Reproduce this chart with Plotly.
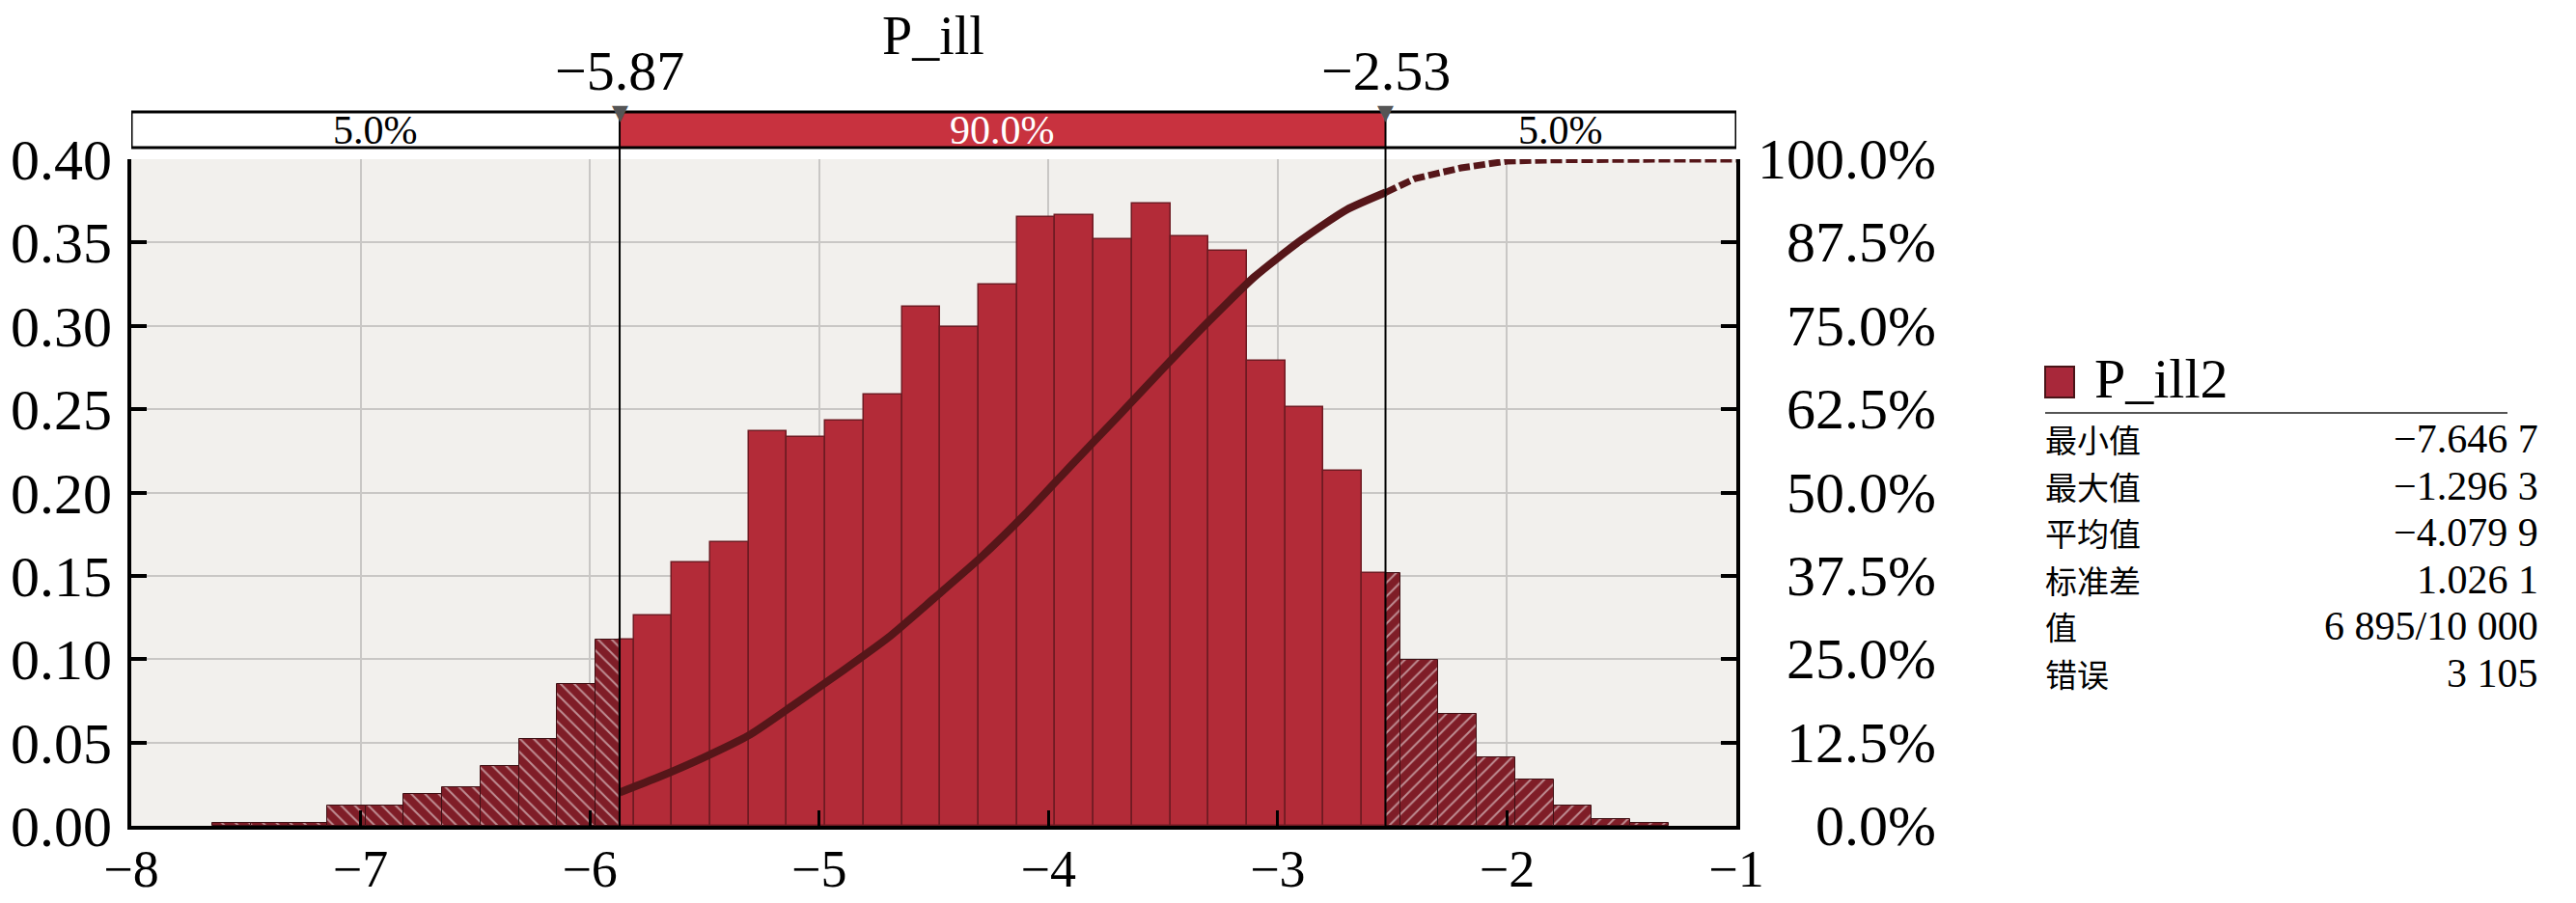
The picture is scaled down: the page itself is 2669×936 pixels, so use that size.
import plotly.graph_objects as go

# ---------------- data ----------------
bin_start = -7.6467          # first bin edge (= minimum)
bin_width = 0.16712          # histogram bin width
density = [0.002, 0.002, 0.002, 0.012, 0.012, 0.019, 0.023, 0.036, 0.052, 0.085,
           0.112, 0.126, 0.158, 0.170, 0.237, 0.233, 0.243, 0.259, 0.3115, 0.299,
           0.3246, 0.365, 0.3663, 0.352, 0.3735, 0.3535, 0.345, 0.279, 0.2515, 0.213,
           0.1516, 0.0996, 0.067, 0.041, 0.028, 0.0123, 0.0039, 0.002]
p_low, p_high = -5.87, -2.53
band_labels = ["5.0%", "90.0%", "5.0%"]

cdf_x = [-5.87, -5.7, -5.5, -5.3, -5.1, -4.9, -4.7, -4.5, -4.3, -4.1, -3.9, -3.7,
         -3.5, -3.3, -3.1, -2.9, -2.7, -2.53]
cdf_y = [0.05, 0.073, 0.103, 0.137, 0.184, 0.232, 0.282, 0.341, 0.401, 0.468, 0.541,
         0.613, 0.686, 0.757, 0.824, 0.878, 0.924, 0.95]
cdf_tail_x = [-2.53, -2.4, -2.2, -2.0, -1.8, -1.6, -1.3, -1.0]
cdf_tail_y = [0.95, 0.971, 0.987, 0.997, 0.999, 1.0, 1.0, 1.0]

x_ticks = [-8, -7, -6, -5, -4, -3, -2, -1]
y_ticks = [0.00, 0.05, 0.10, 0.15, 0.20, 0.25, 0.30, 0.35, 0.40]
y2_ticks = [0.0, 0.125, 0.25, 0.375, 0.5, 0.625, 0.75, 0.875, 1.0]

title_text = "P_ill"
series_name = "P_ill2"
stat_names = ["最小值", "最大值", "平均值", "标准差", "值", "错误"]
stat_values = ["−7.646 7", "−1.296 3", "−4.079 9", "1.026 1", "6 895/10 000", "3 105"]

# ---------------- style ----------------
SERIF = "Liberation Serif, Times New Roman, serif"
CJK = "Noto Sans CJK SC"
RED = "#B32B38"
DARK = "#7F1D27"
CDF_C = "#561619"
BG = "#F2F0ED"
GRID = "#C9C7C5"

W, H = 2669, 936
ML, MR, MT, MB = 136, 870, 116, 80
PW, PH = W - ML - MR, H - MT - MB
def px_x(p):  # pixel -> paper x
    return (p - ML) / PW
def px_y(p):  # pixel -> paper y
    return (H - MB - p) / PH

main_top = px_y(165)
band_bot = px_y(153)

# split bins into left tail / middle / right tail pieces
segs = {"L": ([], [], []), "M": ([], [], []), "R": ([], [], [])}
for i, d in enumerate(density):
    lo = bin_start + i * bin_width
    hi = lo + bin_width
    for key, a, b in (("L", lo, min(hi, p_low)), ("M", max(lo, p_low), min(hi, p_high)),
                      ("R", max(lo, p_high), hi)):
        if b > a:
            segs[key][0].append((a + b) / 2)
            segs[key][1].append(b - a)
            segs[key][2].append(d)

fig = go.Figure()
fig.add_trace(go.Bar(x=segs["L"][0], width=segs["L"][1], y=segs["L"][2],
                     marker=dict(color=DARK, line=dict(color="#3E1014", width=1),
                                 pattern=dict(shape="\\", fgcolor="white", size=10,
                                              solidity=0.2, fillmode="overlay")),
                     showlegend=False))
fig.add_trace(go.Bar(x=segs["M"][0], width=segs["M"][1], y=segs["M"][2],
                     marker=dict(color=RED, line=dict(color="#6E1A22", width=1.5)),
                     showlegend=False))
fig.add_trace(go.Bar(x=segs["R"][0], width=segs["R"][1], y=segs["R"][2],
                     marker=dict(color=DARK, line=dict(color="#3E1014", width=1),
                                 pattern=dict(shape="/", fgcolor="white", size=10,
                                              solidity=0.2, fillmode="overlay")),
                     showlegend=False))
fig.add_trace(go.Scatter(x=cdf_x, y=cdf_y, yaxis="y2", mode="lines",
                         line=dict(color=CDF_C, width=8, shape="spline", smoothing=0.6),
                         showlegend=False))
fig.add_trace(go.Scatter(x=cdf_tail_x, y=cdf_tail_y, yaxis="y2", mode="lines",
                         line=dict(color=CDF_C, width=7, dash="12px,4px"), showlegend=False))

axis_font = dict(family=SERIF, size=60, color="black")
fig.update_layout(
    width=W, height=H,
    margin=dict(l=ML, r=MR, t=MT, b=MB, autoexpand=False),
    paper_bgcolor="white", plot_bgcolor=BG,
    barmode="overlay", bargap=0,
    title=dict(text=title_text, x=967 / W, xanchor="center", y=1 - 36 / H, yanchor="middle",
               font=dict(family=SERIF, size=56, color="black")),
    xaxis=dict(range=[-8, -1], tickvals=x_ticks, ticks="inside", ticklen=16, tickwidth=3,
               tickcolor="black", showline=True, linecolor="black", linewidth=4,
               showgrid=True, gridcolor=GRID, gridwidth=2, zeroline=False,
               tickfont=dict(family=SERIF, size=54, color="black"),
               ticklabelstandoff=-6, automargin=False),
    yaxis=dict(range=[0, 0.4], domain=[0, main_top], tickvals=y_ticks, tickformat=".2f",
               ticks="inside", ticklen=16, tickwidth=4, tickcolor="black",
               showline=True, linecolor="black", linewidth=4,
               showgrid=True, gridcolor=GRID, gridwidth=2, zeroline=False,
               tickfont=axis_font, ticklabelstandoff=4, automargin=False),
    yaxis2=dict(range=[0, 1], overlaying="y", side="right", tickvals=y2_ticks,
                ticks="inside", ticklen=16, tickwidth=4, tickcolor="black",
                showline=True, linecolor="black", linewidth=4, showgrid=False,
                zeroline=False, showticklabels=False, automargin=False),
)

# right axis labels (right aligned)
for v in y2_ticks:
    fig.add_annotation(x=px_x(2008), xref="paper", y=v, yref="y2", text=f"{v*100:.1f}%",
                       showarrow=False, xanchor="right", yanchor="middle", font=axis_font)

# top percentile band
band_edges = [-8, p_low, p_high, -1]
band_fill = ["white", "#C8323F", "white"]
band_txt_col = ["black", "white", "black"]
for i in range(3):
    fig.add_shape(type="rect", xref="x", yref="paper", x0=band_edges[i], x1=band_edges[i + 1],
                  y0=band_bot, y1=1, fillcolor=band_fill[i], line=dict(width=0), layer="above")
    fig.add_annotation(x=(band_edges[i] + band_edges[i + 1]) / 2, xref="x",
                       y=(band_bot + 1) / 2, yref="paper", text=band_labels[i],
                       showarrow=False, xanchor="center", yanchor="middle",
                       font=dict(family=SERIF, size=42, color=band_txt_col[i]))
fig.add_shape(type="rect", xref="x", yref="paper", x0=-8, x1=-1, y0=band_bot, y1=1,
              line=dict(color="black", width=3), layer="above")

# percentile lines, markers and labels
for v in (p_low, p_high):
    fig.add_shape(type="line", xref="x", yref="paper", x0=v, x1=v, y0=0, y1=1,
                  line=dict(color="black", width=2), layer="above")
    fig.add_annotation(x=v, xref="x", y=1.0, yref="paper", text="▼", showarrow=False,
                       xanchor="center", yanchor="middle",
                       font=dict(family="DejaVu Sans", size=22, color="#555555"))
    fig.add_annotation(x=v, xref="x", y=px_y(74), yref="paper",
                       text=f"{v:.2f}".replace("-", "−"), showarrow=False,
                       xanchor="center", yanchor="middle",
                       font=dict(family=SERIF, size=58, color="black"))

# legend / statistics panel
fig.add_shape(type="rect", xref="paper", yref="paper", x0=px_x(2119), x1=px_x(2149),
              y0=px_y(412), y1=px_y(380), fillcolor="#A8283A", line=dict(color="#4A1418", width=2))
fig.add_annotation(x=px_x(2168), xref="paper", y=px_y(392), yref="paper", text=series_name,
                   showarrow=False, xanchor="left", yanchor="middle",
                   font=dict(family=SERIF, size=58, color="black"))
fig.add_shape(type="line", xref="paper", yref="paper", x0=px_x(2119), x1=px_x(2598),
              y0=px_y(428), y1=px_y(428), line=dict(color="#555555", width=2))
row_step = 48.5
for k, (name, val) in enumerate(zip(stat_names, stat_values)):
    yy = px_y(455 + row_step * k)
    fig.add_annotation(x=px_x(2117), xref="paper", y=yy, yref="paper", text=name,
                       showarrow=False, xanchor="left", yanchor="middle",
                       font=dict(family=CJK, size=33, color="black"))
    fig.add_annotation(x=px_x(2632), xref="paper", y=yy, yref="paper", text=val,
                       showarrow=False, xanchor="right", yanchor="middle",
                       font=dict(family=SERIF, size=42, color="black"))

fig.write_html("out.html", config={"displayModeBar": False},
               post_script="document.body.style.margin='0px';")
